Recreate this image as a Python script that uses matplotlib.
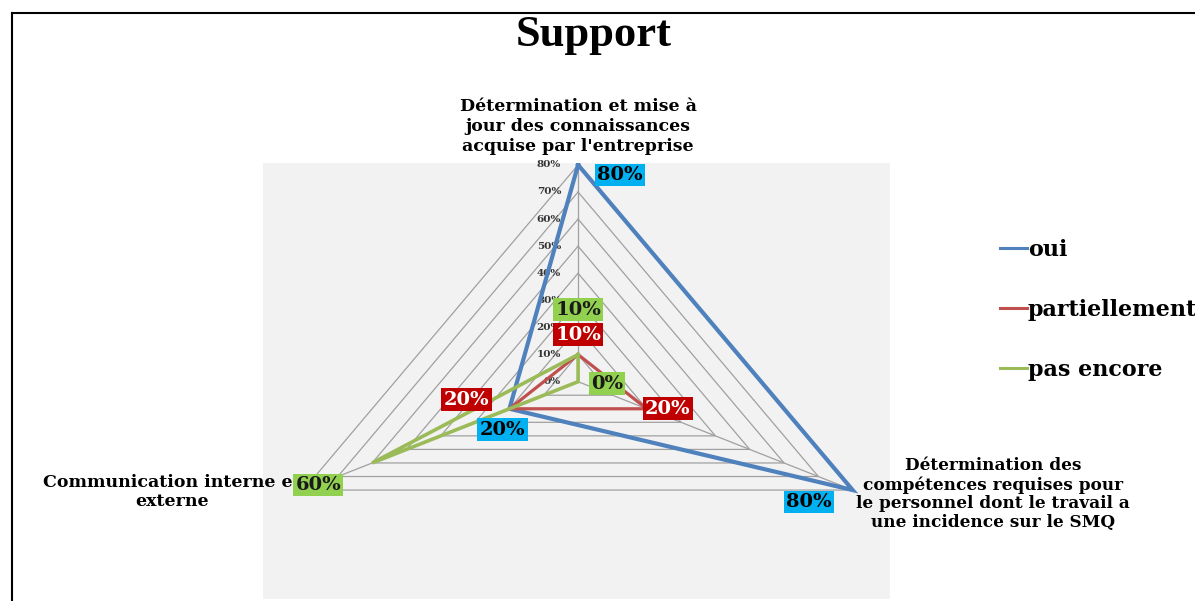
import matplotlib.pyplot as plt
import numpy as np
from matplotlib.lines import Line2D

# données du radar
categories = ["Détermination et mise à\njour des connaissances\nacquise par l'entreprise",
              "Détermination des\ncompétences requises pour\nle personnel dont le travail a\nune incidence sur le SMQ",
              "Communication interne et\nexterne"]
oui = [0.80, 0.80, 0.20]
partiellement = [0.10, 0.20, 0.20]
pas_encore = [0.10, 0.00, 0.60]
ticks = [0.0, 0.1, 0.2, 0.3, 0.4, 0.5, 0.6, 0.7, 0.8]

angles = np.radians([90, -30, 210])

fig = plt.figure(figsize=(11.95, 6.01), dpi=100)
ax = fig.add_axes([263/1195, 2/601, 627/1195, 436/601])
ax.set_facecolor('#F2F2F2')
ax.set_xlim(-0.795, 0.787)
ax.set_ylim(-0.802, 0.807)
for s in ax.spines.values():
    s.set_visible(False)
ax.set_xticks([])
ax.set_yticks([])

def xy(vals):
    v = np.array(list(vals) + [vals[0]])
    a = np.append(angles, angles[0])
    return v*np.cos(a), v*np.sin(a)

# grille triangulaire
for t in ticks[1:]:
    gx, gy = xy([t, t, t])
    ax.plot(gx, gy, color='#A0A0A0', lw=0.9, zorder=1)
for a in angles:
    ax.plot([0, ticks[-1]*np.cos(a)], [0, ticks[-1]*np.sin(a)], color='#A0A0A0', lw=0.9, zorder=1)

for t in ticks:
    ax.text(-0.043, t, '%d%%' % round(t*100), ha='right', va='center',
            fontsize=7.5, fontweight='bold', family='DejaVu Serif', color='#333333')

series = [('oui', oui, '#4F81BD', 3.0, '#00B0F0', 'black', [(42, -10), (-44, -12), (-7, -21)]),
          ('partiellement', partiellement, '#C0504D', 2.3, '#C00000', 'white', [(0, 20), (21, 0), (-43, 9)]),
          ('pas encore', pas_encore, '#9BBB59', 2.6, '#92D050', '#1a1a1a', [(0, 45), (29, -2), (-54, -22)])]

handles = []
for name, vals, col, lw, bg, fg, offs in series:
    px, py = xy(vals)
    ln, = ax.plot(px, py, color=col, lw=lw, label=name, zorder=3, solid_joinstyle='miter')
    handles.append(ln)
    for i, v in enumerate(vals):
        ax.annotate('%d%%' % round(v*100), (px[i], py[i]), xytext=offs[i], textcoords='offset pixels',
                    ha='center', va='center', fontsize=14, fontweight='bold', family='DejaVu Serif',
                    color=fg, zorder=5, annotation_clip=False,
                    bbox=dict(boxstyle='square,pad=0.12', fc=bg, ec='none'))

# libellés des axes
ax.text(0, 0.836, categories[0], ha='center', va='bottom', fontsize=12.5, fontweight='bold',
        family='DejaVu Serif', linespacing=1.25)
ax.text((993-578)/396.3, (381.7-457)/270.9, categories[1], ha='center', va='top', fontsize=12.2,
        fontweight='bold', family='DejaVu Serif', linespacing=1.15)
ax.text((172-578)/396.3, (381.7-474)/270.9, categories[2], ha='center', va='top', fontsize=12.5,
        fontweight='bold', family='DejaVu Serif', linespacing=1.15)

fig.text(594/1195, 1-35/601, 'Support', ha='center', va='center', fontsize=32,
         fontweight='bold', family='Liberation Serif')

leg = fig.legend(handles=handles, loc='upper left', bbox_to_anchor=(980/1195, 1-219/601), frameon=False,
                 prop={'family': 'DejaVu Serif', 'weight': 'bold', 'size': 16},
                 handlelength=1.2, handletextpad=0.05, labelspacing=1.7)
for h in leg.get_lines():
    h.set_linewidth(2.2)

# cadre
fig.add_artist(Line2D([12/1195, 1], [1-13/601, 1-13/601], color='black', lw=1.5))
fig.add_artist(Line2D([12/1195, 12/1195], [0, 1-13/601], color='black', lw=1.5))

fig.savefig('out.png', dpi=100)
